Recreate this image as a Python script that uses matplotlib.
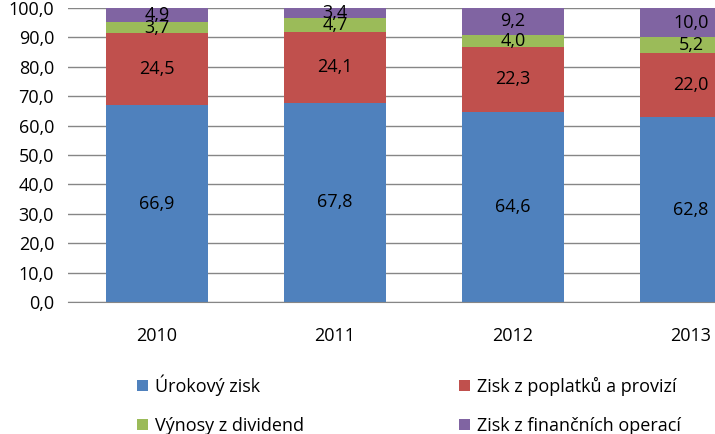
import matplotlib
matplotlib.use("Agg")
import matplotlib.pyplot as plt
import numpy as np

# data
years = ["2010", "2011", "2012", "2013"]
urokovy = [66.9, 67.8, 64.6, 62.8]
poplatky = [24.5, 24.1, 22.3, 22.0]
dividendy = [3.7, 4.7, 4.0, 5.2]
financni = [4.9, 3.4, 9.2, 10.0]

series = [
    ("Úrokový zisk", urokovy, "#4F81BD"),
    ("Zisk z poplatků a provizí", poplatky, "#C0504D"),
    ("Výnosy z dividend", dividendy, "#9BBB59"),
    ("Zisk z finančních operací", financni, "#8064A2"),
]

plt.rcParams["font.family"] = ["Open Sans", "DejaVu Sans"]
FS = 13

fig = plt.figure(figsize=(7.15, 4.34), dpi=100)
# axes runs past the right edge, like the clipped original
ax = fig.add_axes([68 / 715, 132 / 434, 712 / 715, 294 / 434])

x = np.arange(len(years))
bottom = np.zeros(len(years))
handles = {}
for name, vals, color in series:
    vals = np.array(vals)
    bars = ax.bar(x, vals, width=0.573, bottom=bottom, color=color, zorder=2, label=name)
    handles[name] = bars
    for xi, b, v in zip(x, bottom, vals):
        ax.text(xi, b + v / 2, f"{v:.1f}".replace(".", ","), ha="center", va="center",
                fontsize=FS, color="black", zorder=3, clip_on=False)
    bottom += vals

ax.set_xlim(-0.5, 3.5)
ax.set_ylim(0, 100)
ax.set_yticks(np.arange(0, 101, 10))
ax.set_yticklabels([f"{v:.1f}".replace(".", ",") for v in np.arange(0, 101, 10)], fontsize=FS)
ax.set_xticks(x)
ax.set_xticklabels(years, fontsize=FS)
ax.tick_params(axis="both", length=0)
ax.tick_params(axis="y", pad=10)
ax.tick_params(axis="x", pad=18)
ax.grid(axis="y", color="#868686", linewidth=1, zorder=1)
for s in ["top", "right", "left"]:
    ax.spines[s].set_visible(False)
ax.spines["bottom"].set_color("#868686")

order = ["Úrokový zisk", "Výnosy z dividend", "Zisk z poplatků a provizí", "Zisk z finančních operací"]
fig.legend([handles[n] for n in order], order, ncol=2, loc="center",
           bbox_to_anchor=(0.572, 0.068), frameon=False, fontsize=FS,
           handlelength=0.6, handleheight=0.6, handletextpad=0.4,
           columnspacing=8.6, labelspacing=1.15)

fig.savefig("out.png", dpi=100)
